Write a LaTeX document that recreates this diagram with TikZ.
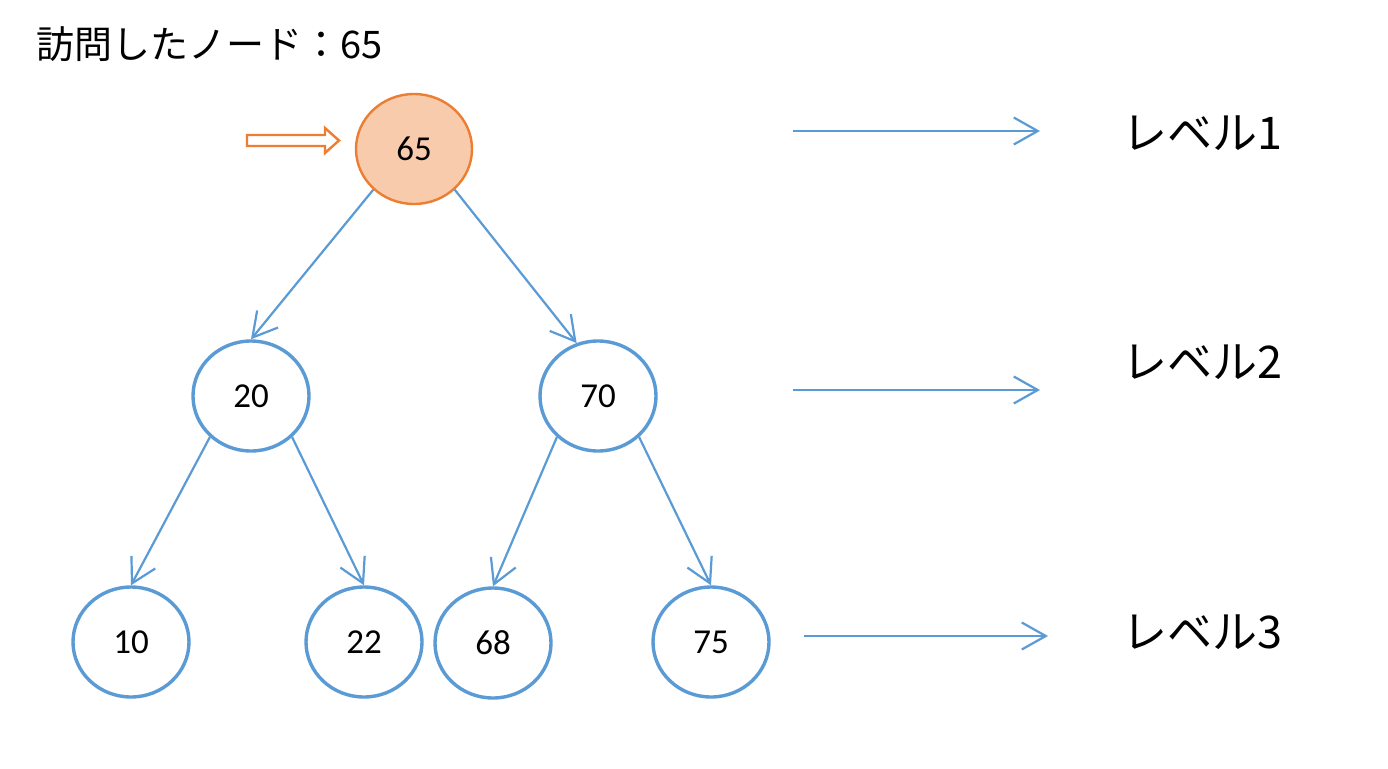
\documentclass[tikz,border=0pt]{standalone}
\usepackage{fontspec}
\newfontfamily\jpfont{Noto Sans CJK JP}
\newfontfamily\numfont{Carlito}
\usetikzlibrary{arrows.meta,shapes.geometric}
\definecolor{tblue}{HTML}{5B9BD5}
\definecolor{torange}{HTML}{ED7D31}
\definecolor{tpeach}{HTML}{F8CBAD}
\tikzset{
  treenode/.style={ellipse,draw=tblue,line width=3.4pt,minimum width=116pt,minimum height=110pt,inner sep=0pt,font=\numfont\fontsize{35}{35}\selectfont,fill=white},
  visited/.style={treenode,draw=torange,fill=tpeach,line width=2.4pt},
  tedge/.style={draw=tblue,line width=2.2pt,-{Straight Barb[length=24pt,width=27pt,line width=2.2pt]}},
  lvl/.style={anchor=west,font=\jpfont\fontsize{45}{45}\selectfont,inner sep=0pt},
}
\begin{document}
\begin{tikzpicture}[x=1pt,y=-1pt]
\useasboundingbox (0,0) rectangle (1388,768);
\fill[white] (0,0) rectangle (1388,768);
\node[anchor=west,inner sep=0pt,font=\jpfont\fontsize{38}{38}\selectfont] (title) at (36,44) {訪問したノード：65};

\node[visited] (n65) at (414,149) {65};
\node[treenode] (n20) at (251,396) {20};
\node[treenode] (n70) at (598,396) {70};
\node[treenode] (n10) at (131,642) {10};
\node[treenode] (n22) at (364,642) {22};
\node[treenode] (n68) at (493,643) {68};
\node[treenode] (n75) at (711,642) {75};

\draw[tedge] (n65.225) -- (n20.north);
\draw[tedge] (n65.-45) -- (n70.112);
\draw[tedge] (n20.225) -- (n10.north);
\draw[tedge] (n20.-45) -- (n22.north);
\draw[tedge] (n70.225) -- (n68.north);
\draw[tedge] (n70.-45) -- (n75.north);

% orange pointer arrow
\draw[torange,line width=2.4pt,fill=white,line join=miter]
  (247,135) -- (325,135) -- (325,128) -- (339,140.5) -- (325,153) -- (325,146) -- (247,146) -- cycle;

\coordinate (a1) at (793,131); \coordinate (b1) at (1040,131);
\coordinate (a2) at (793,390); \coordinate (b2) at (1040,390);
\coordinate (a3) at (804,636); \coordinate (b3) at (1048,636);
\draw[tedge] (a1) -- (b1);
\draw[tedge] (a2) -- (b2);
\draw[tedge] (a3) -- (b3);

\node[lvl] (l1) at (1122,133) {レベル1};
\node[lvl] (l2) at (1122,362) {レベル2};
\node[lvl] (l3) at (1122,632) {レベル3};
\end{tikzpicture}
\end{document}
